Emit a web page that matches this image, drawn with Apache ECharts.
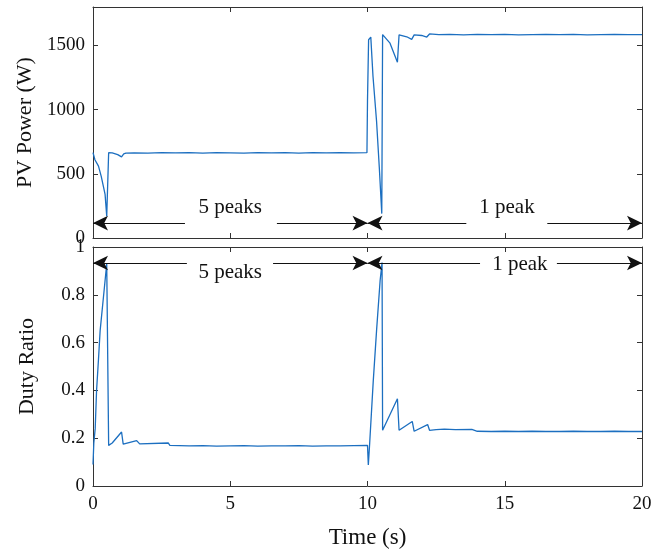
<!DOCTYPE html>
<html>
<head>
<meta charset="utf-8">
<script src="https://cdn.jsdelivr.net/npm/echarts@6/dist/echarts.min.js"></script>
<style>html,body{margin:0;padding:0;background:#fff;}#c{width:665px;height:550px;}</style>
</head>
<body>
<div id="c"></div>
<script>
// ---- data ----
var timeP = [0,0.04,0.07,0.12,0.2,0.3,0.38,0.44,0.5,0.55,0.57,0.7,0.9,1.04,1.12,1.2,1.5,2,2.5,3,3.5,4,4.5,5,5.5,6,6.5,7,7.5,8,8.5,9,9.5,9.98,10.0,10.02,10.04,10.12,10.15,10.2,10.33,10.43,10.52,10.55,10.6,10.82,11.09,11.15,11.43,11.61,11.7,11.97,12.16,12.26,12.6,13,13.5,14,14.5,15,15.5,16,16.5,17,17.5,18,18.5,19,19.5,20];
var powerW = [665,655,610,600,560,480,400,340,170,160,665,664,650,632,655,662,664,661,665,663,666,662,665,664,661,665,663,666,662,665,663,666,664,665,1070,1080,1545,1565,1570,1260,910,550,190,1585,1592,1518,1370,1583,1568,1548,1583,1578,1566,1590,1584,1586,1583,1587,1584,1586,1583,1585,1587,1584,1586,1583,1585,1586,1584,1585];

var timeD = [0,0.03,0.08,0.13,0.2,0.26,0.38,0.5,0.55,0.57,0.7,1.04,1.1,1.59,1.7,2.74,2.8,3.5,4,4.5,5,5.5,6,6.5,7,7.5,8,8.5,9,9.5,10.0,10.03,10.08,10.21,10.33,10.46,10.53,10.55,11.09,11.15,11.63,11.7,12.19,12.26,12.5,12.8,13.2,13.8,14.0,14.5,15,15.5,16,16.5,17,17.5,18,18.5,19,19.5,20];
var duty = [0.09,0.18,0.24,0.40,0.53,0.65,0.79,0.93,0.93,0.17,0.18,0.226,0.175,0.19,0.176,0.18,0.17,0.168,0.169,0.167,0.168,0.169,0.167,0.168,0.168,0.169,0.167,0.168,0.168,0.169,0.17,0.088,0.18,0.44,0.65,0.86,0.935,0.233,0.365,0.233,0.27,0.229,0.257,0.233,0.236,0.238,0.236,0.237,0.229,0.228,0.229,0.228,0.229,0.228,0.228,0.229,0.228,0.228,0.229,0.228,0.228];

var xTicks = [0,5,10,15,20];
var powerTicks = [0,500,1000,1500];
var dutyTicks = [0,0.2,0.4,0.6,0.8,1];

// annotations (data coordinates)
var annPowerY = 116;
var annDutyY = 0.933;
var annP = [
  {name:'5 peaks', tx:5.0, ty:240, segs:[[3.35,0],[6.7,10]]},
  {name:'1 peak', tx:15.08, ty:240, segs:[[13.6,10],[16.55,20]]}
];
var annD = [
  {name:'5 peaks', tx:5.0, ty:0.895, segs:[[3.42,0],[6.56,10]]},
  {name:'1 peak', tx:15.55, ty:0.927, segs:[[14.1,10],[16.9,20]]}
];

function pairs(xs, ys){ return xs.map(function(x,i){return [x, ys[i]];}); }
function segData(ann, y){
  var out = [];
  ann.forEach(function(a){ a.segs.forEach(function(s){ out.push([{coord:[s[0], y]}, {coord:[s[1], y]}]); }); });
  return out;
}
function txtData(ann){ return ann.map(function(a){ return {name:a.name, coord:[a.tx, a.ty]}; }); }

var FONT = 'Liberation Serif';
var AX = '#333';
var LINE = '#1c6fc0';

function xAx(grid, pos, labels, name){
  return {type:'value', gridIndex:grid, position:pos, min:0, max:20, interval:5,
    axisLine:{show:true, onZero:false, lineStyle:{color:AX, width:1}},
    axisTick:{show:true, inside:true, length:5, lineStyle:{color:AX}},
    axisLabel:{show:labels, color:'#111', fontSize:19, fontFamily:FONT, margin:9, formatter:function(v){return String(v);}},
    splitLine:{show:false},
    name: name || '', nameLocation:'middle', nameGap:40,
    nameTextStyle:{color:'#111', fontSize:23, fontFamily:FONT}};
}
function yAx(grid, pos, labels, min, max, interval, name, fmt){
  return {type:'value', gridIndex:grid, position:pos, min:min, max:max, interval:interval,
    axisLine:{show:true, onZero:false, lineStyle:{color:AX, width:1}},
    axisTick:{show:true, inside:true, length:5, lineStyle:{color:AX}},
    axisLabel:{show:labels, color:'#111', fontSize:19, fontFamily:FONT, margin:8, showMaxLabel: max===1,
      formatter: fmt || function(v){ return String(v); }},
    splitLine:{show:false},
    name: name || '', nameLocation:'middle', nameGap:55,
    nameTextStyle:{color:'#111', fontSize:22, fontFamily:FONT}};
}

var arrowML = function(data){
  return {silent:true, symbol:['none','arrow'], symbolSize:[11,15],
    lineStyle:{color:'#111', width:1, type:'solid'}, label:{show:false}, data:data, animation:false};
};
var textMP = function(data){
  return {silent:true, symbol:'circle', symbolSize:0,
    label:{show:true, position:'inside', formatter:'{b}', color:'#111', fontSize:21, fontFamily:FONT},
    data:data, animation:false};
};

var chart = echarts.init(document.getElementById('c'));
chart.setOption({
  animation:false,
  backgroundColor:'#fff',
  grid:[
    {left:93, top:7, width:549, height:231},
    {left:93, top:247, width:549, height:239}
  ],
  xAxis:[
    xAx(0,'bottom',false), xAx(0,'top',false),
    xAx(1,'bottom',true,'Time (s)'), xAx(1,'top',false)
  ],
  yAxis:[
    yAx(0,'left',true,0,1800,500,'PV Power (W)'),
    yAx(0,'right',false,0,1800,500),
    yAx(1,'left',true,0,1,0.2,'Duty Ratio', function(v){ return (v===0||v===1) ? String(v) : v.toFixed(1); }),
    yAx(1,'right',false,0,1,0.2)
  ],
  series:[
    {type:'line', xAxisIndex:0, yAxisIndex:0, data:pairs(timeP, powerW), showSymbol:false, symbol:'none',
      lineStyle:{color:LINE, width:1.3}, markLine:arrowML(segData(annP, annPowerY)), markPoint:textMP(txtData(annP))},
    {type:'line', xAxisIndex:2, yAxisIndex:2, data:pairs(timeD, duty), showSymbol:false, symbol:'none',
      lineStyle:{color:LINE, width:1.3}, markLine:arrowML(segData(annD, annDutyY)), markPoint:textMP(txtData(annD))}
  ]
});
</script>
</body>
</html>
